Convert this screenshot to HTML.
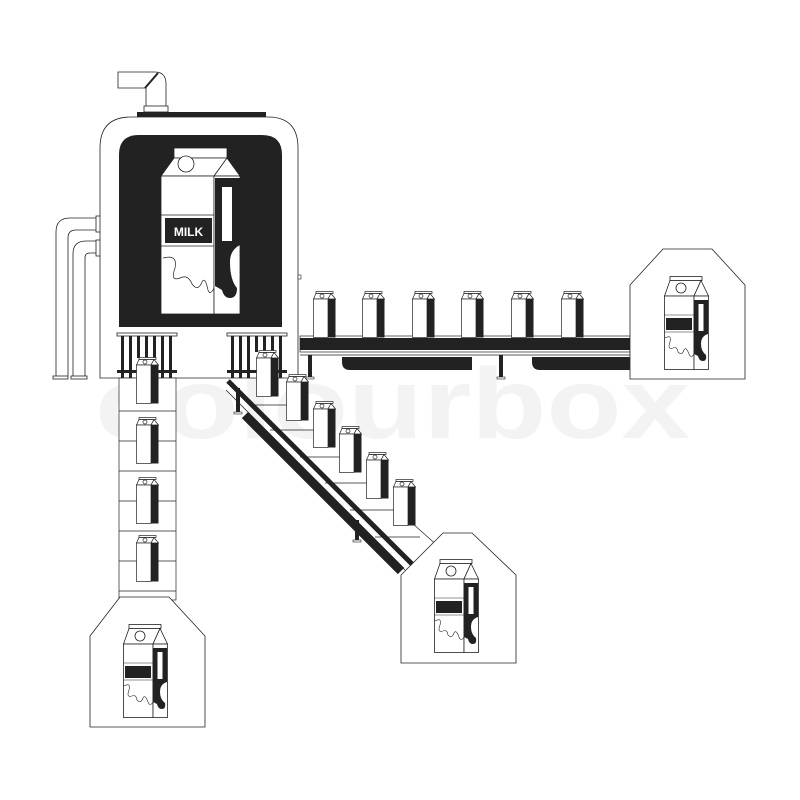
<!DOCTYPE html>
<html><head><meta charset="utf-8"><style>
html,body{margin:0;padding:0;background:#fff;}
svg{display:block}
</style></head><body>
<svg width="800" height="800" viewBox="0 0 800 800" xmlns="http://www.w3.org/2000/svg">
<defs>
<symbol id="sc" viewBox="0 0 23 47" width="23" height="47">
 <rect x="3" y="0.5" width="17" height="2" fill="#fff" stroke="#222" stroke-width="0.7"/>
 <polygon points="3,2.5 18,2.5 15,8 0.5,8" fill="#fff" stroke="#222" stroke-width="0.7"/>
 <polygon points="18,2.5 22.5,8 15,8" fill="#fff" stroke="#222" stroke-width="0.7"/>
 <circle cx="9" cy="5" r="2" fill="#fff" stroke="#222" stroke-width="0.7"/>
 <rect x="0.5" y="8" width="14.5" height="38.5" fill="#fff" stroke="#222" stroke-width="0.7"/>
 <rect x="15" y="8" width="7.5" height="38.5" fill="#222"/>
</symbol>
<symbol id="bc" viewBox="0 0 45 94" width="45" height="94">
 <rect x="6" y="0.5" width="32" height="4" fill="#fff" stroke="#222" stroke-width="0.8"/>
 <polygon points="6,4.5 37,4.5 30,20 0.5,20" fill="#fff" stroke="#222" stroke-width="0.8"/>
 <polygon points="37,4.5 44.5,20 30,20" fill="#fff" stroke="#222" stroke-width="0.8"/>
 <circle cx="17" cy="12" r="5" fill="#fff" stroke="#222" stroke-width="0.8"/>
 <rect x="0.5" y="20" width="29.5" height="73.5" fill="#fff" stroke="#222" stroke-width="0.8"/>
 <rect x="30" y="20" width="14.5" height="73.5" fill="#fff" stroke="#222" stroke-width="0.8"/>
 <path d="M30,24 H44 V58 Q37,60 37,68 Q37,75 42,79 Q43,85 39,85 Q35,85 34,80 L30,78 Z" fill="#222"/>
 <rect x="34.5" y="28" width="5" height="27" fill="#fff"/>
 <line x1="0.5" y1="39" x2="30" y2="39" stroke="#222" stroke-width="0.6"/>
 <line x1="0.5" y1="56" x2="30" y2="56" stroke="#222" stroke-width="0.6"/>
 <rect x="2" y="42" width="26" height="12" fill="#222"/>
 <path d="M1,62 Q8,58 6,66 Q3,74 9,72 Q13,70 14,76 Q18,80 20,74 Q22,70 25,78 Q27,83 30,78" fill="none" stroke="#222" stroke-width="0.6"/>
</symbol>
</defs>

<!-- watermark -->
<text x="95" y="438" font-family="Liberation Sans, sans-serif" font-weight="bold" font-size="100" fill="#f3f3f3" textLength="595" lengthAdjust="spacingAndGlyphs">colourbox</text>

<!-- side pipes -->
<g fill="none" stroke="#222" stroke-width="0.8">
 <path d="M97,218 H70 Q56,218 56,232 V376"/>
 <path d="M97,230 H76 Q68,230 68,238 V376"/>
 <path d="M97,241 H86 Q73,241 73,254 V376"/>
 <path d="M97,253 H90 Q85,253 85,258 V376"/>
 <rect x="53" y="376" width="15" height="3" fill="#fff"/>
 <rect x="71" y="376" width="16" height="3" fill="#fff"/>
 <rect x="96" y="216" width="5" height="16" fill="#fff"/>
 <rect x="96" y="240" width="5" height="16" fill="#fff"/>
</g>

<!-- top pipe -->
<g stroke="#222" stroke-width="0.8" fill="#fff">
 <path d="M118,72 H155 Q166,72 166,84 V108 H146 V88 H118 Z"/>
 <line x1="145" y1="88" x2="158" y2="73" stroke-width="2"/>
 <rect x="144" y="106" width="24" height="6"/>
</g>
<rect x="137" y="112" width="129" height="5" fill="#222"/>

<!-- tank -->
<path d="M100,378 V148 Q100,117 131,117 H268 Q298,117 298,148 V378 Z" fill="#fff" stroke="#222" stroke-width="0.8"/>
<path d="M119,327 V155 Q119,135 139,135 H262 Q282,135 282,155 V327 Z" fill="#222"/>
<rect x="298" y="275" width="3" height="4" fill="#fff" stroke="#222" stroke-width="0.6"/>
<!-- big milk carton -->
<g stroke="#222" stroke-width="0.8">
 <rect x="174" y="148" width="53" height="10" fill="#fff"/>
 <polygon points="174,158 227,158 214,176 161,176" fill="#fff"/>
 <polygon points="227,158 240,176 214,176" fill="#fff"/>
 <circle cx="186" cy="164" r="8" fill="#fff"/>
 <rect x="161" y="176" width="53" height="138" fill="#fff"/>
 <rect x="214" y="176" width="26" height="138" fill="#fff"/>
</g>
<path d="M215,178 H240 V245 Q230,250 230,262 Q230,280 237,288 Q237,298 230,298 Q224,298 222,290 L215,286 Z" fill="#222"/>
<rect x="222" y="187" width="10" height="54" fill="#fff"/>
<line x1="161" y1="215" x2="214" y2="215" stroke="#222" stroke-width="0.7"/>
<line x1="161" y1="246" x2="214" y2="246" stroke="#222" stroke-width="0.7"/>
<rect x="165" y="218" width="47" height="25" fill="#222"/>
<text x="188.5" y="236" text-anchor="middle" font-family="Liberation Sans, sans-serif" font-weight="bold" font-size="12" fill="#fff">MILK</text>
<path d="M163,258 Q178,254 175,268 Q170,282 180,278 Q188,274 192,284 Q198,292 202,282 Q205,276 208,290 Q210,296 214,288" fill="none" stroke="#222" stroke-width="0.7"/>

<!-- fences -->
<g stroke="#222" fill="#fff" stroke-width="0.8">
 <rect x="117" y="333" width="60" height="3"/>
 <rect x="227" y="333" width="60" height="3"/>
</g>
<g fill="#222">
 <rect x="121" y="336" width="3" height="42"/><rect x="129" y="336" width="3" height="42"/><rect x="137" y="336" width="3" height="22"/><rect x="145" y="336" width="3" height="22"/><rect x="153" y="336" width="3" height="22"/><rect x="161" y="336" width="3" height="42"/><rect x="169" y="336" width="3" height="42"/>
 <rect x="231" y="336" width="3" height="42"/><rect x="239" y="336" width="3" height="42"/><rect x="247" y="336" width="3" height="42"/><rect x="255" y="336" width="3" height="16"/><rect x="263" y="336" width="3" height="16"/><rect x="271" y="336" width="3" height="42"/><rect x="279" y="336" width="3" height="42"/>
 <rect x="117" y="370" width="60" height="3"/>
 <rect x="227" y="370" width="60" height="3"/>
</g>

<!-- left column -->
<g stroke="#222" stroke-width="0.7" fill="none">
 <rect x="119" y="378" width="57" height="222" fill="#fff"/>
 <line x1="119" y1="411" x2="176" y2="411"/><line x1="119" y1="441" x2="176" y2="441"/>
 <line x1="119" y1="471" x2="176" y2="471"/><line x1="119" y1="501" x2="176" y2="501"/>
 <line x1="119" y1="531" x2="176" y2="531"/><line x1="119" y1="561" x2="176" y2="561"/>
 <line x1="119" y1="591" x2="176" y2="591"/>
</g>
<use href="#sc" x="136" y="357"/>
<use href="#sc" x="136" y="417"/>
<use href="#sc" x="136" y="477"/>
<use href="#sc" x="136" y="535"/>

<!-- horizontal conveyor -->
<rect x="300" y="336" width="330" height="16" fill="#fff" stroke="#222" stroke-width="0.7"/>
<rect x="300" y="338" width="330" height="12" fill="#222"/>
<line x1="300" y1="355" x2="630" y2="355" stroke="#222" stroke-width="0.8"/>
<path d="M342,357 H472 V370 H350 Q342,370 342,362 Z" fill="#222"/>
<path d="M532,357 H630 V370 H540 Q532,370 532,362 Z" fill="#222"/>
<rect x="308" y="355" width="4" height="22" fill="#222"/>
<rect x="306" y="377" width="8" height="2" fill="#fff" stroke="#222" stroke-width="0.6"/>
<rect x="499" y="355" width="4" height="22" fill="#222"/>
<rect x="497" y="377" width="8" height="2" fill="#fff" stroke="#222" stroke-width="0.6"/>
<use href="#sc" x="313" y="291"/>
<use href="#sc" x="362" y="291"/>
<use href="#sc" x="412" y="291"/>
<use href="#sc" x="461" y="291"/>
<use href="#sc" x="511" y="291"/>
<use href="#sc" x="561" y="291"/>

<!-- diagonal conveyor -->
<g stroke="#222" stroke-width="0.7" fill="none">
 <line x1="255" y1="405" x2="290" y2="405"/><line x1="270" y1="430" x2="318" y2="430"/>
 <line x1="300" y1="457" x2="344" y2="457"/><line x1="325" y1="483" x2="370" y2="483"/>
 <line x1="350" y1="510" x2="398" y2="510"/><line x1="375" y1="537" x2="420" y2="537"/>
 <line x1="412" y1="523" x2="440" y2="548"/>
</g>
<line x1="228" y1="381" x2="412" y2="564" stroke="#222" stroke-width="5"/>
<line x1="226" y1="390" x2="405" y2="570" stroke="#222" stroke-width="0.8"/>
<line x1="245" y1="415" x2="401" y2="571" stroke="#222" stroke-width="9"/>
<rect x="236" y="388" width="4" height="24" fill="#222"/>
<rect x="234" y="412" width="8" height="2" fill="#fff" stroke="#222" stroke-width="0.6"/>
<rect x="355" y="520" width="4" height="20" fill="#222"/>
<rect x="353" y="540" width="8" height="2" fill="#fff" stroke="#222" stroke-width="0.6"/>
<use href="#sc" x="256" y="350"/>
<use href="#sc" x="286" y="374"/>
<use href="#sc" x="313" y="401"/>
<use href="#sc" x="339" y="426"/>
<use href="#sc" x="366" y="452"/>
<use href="#sc" x="393" y="479"/>

<!-- houses -->
<g fill="#fff" stroke="#222" stroke-width="0.8">
 <polygon points="120,597 169,597 205,636 205,727 90,727 90,636"/>
 <polygon points="443,533 472,533 516,575 516,663 401,663 401,575"/>
 <polygon points="663,249 712,249 745,285 745,379 630,379 630,285"/>
</g>
<use href="#bc" x="123" y="624"/>
<use href="#bc" x="434" y="559"/>
<use href="#bc" x="664" y="276"/>
</svg>
</body></html>
